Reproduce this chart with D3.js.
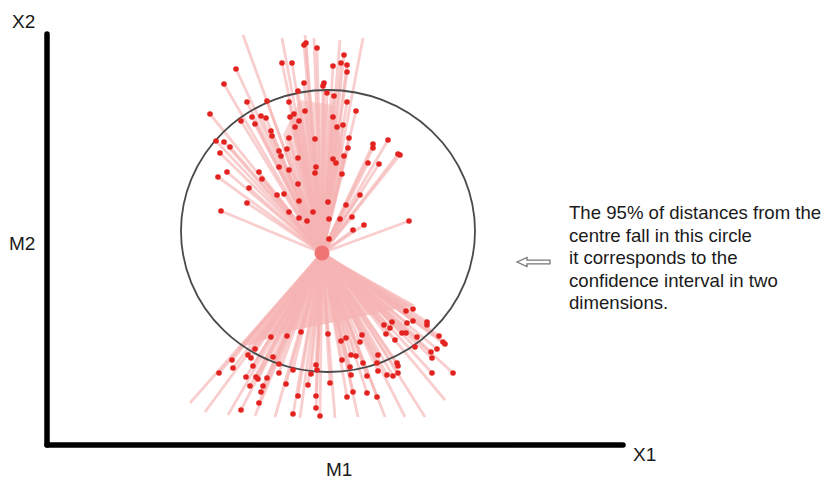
<!DOCTYPE html>
<html>
<head>
<meta charset="utf-8">
<script src="https://cdn.jsdelivr.net/npm/d3@7"></script>
<style>
  body { margin: 0; background: #fff; }
  svg text { font-family: "Liberation Sans", Arial, sans-serif; fill: #1a1a1a; }
</style>
</head>
<body>
<svg id="chart" width="827" height="483"></svg>
<script>
/*------------------- data (M1, M2 units) --------------------*/
const centre = [27.5, 19.2];
const ring = { cx: 28.1, cy: 21.4, rx: 14.7, ry: 14.1 };

// points above the centre
const upperPts = [
  [25.9,40.2],[25.7,40.0],[27.0,39.7],[29.7,39.0],[23.5,38.2],[24.5,38.2],[29.4,38.2],[28.6,37.9],
  [30.0,38.0],[30.0,37.3],[18.9,37.6],[17.7,36.1],[25.7,36.2],[27.7,36.2],[27.6,35.9],[25.1,35.4],
  [28.0,35.2],[28.7,34.9],[22.0,34.4],[20.0,34.3],[24.2,34.3],[30.0,34.3],[16.3,33.1],[19.4,32.4],
  [20.5,32.8],[21.4,32.9],[21.9,32.7],[24.3,32.8],[24.7,33.1],[25.2,32.4],[25.8,33.4],[28.6,32.8],
  [30.9,33.4],[20.8,32.1],[24.8,31.8],[29.0,31.8],[29.6,32.0],[22.4,31.4],[22.5,30.9],[26.8,30.6],
  [24.2,30.7],[30.2,30.7],[34.1,30.5],[16.9,30.4],[17.7,30.3],[18.3,29.8],[32.6,30.1],[32.6,29.7],
  [17.3,29.2],[23.2,29.4],[24.0,29.6],[23.4,28.9],[25.1,28.7],[30.1,29.7],[29.7,28.9],[28.6,28.6],
  [28.9,28.2],[35.1,29.1],[35.3,29.0],[32.1,28.2],[33.2,28.1],[18.0,27.3],[21.2,27.3],[23.2,27.8],
  [24.2,27.5],[26.9,27.8],[26.8,27.2],[29.5,27.1],[17.1,26.8],[21.5,26.6],[20.2,25.7],[25.1,26.1],
  [23.0,25.0],[23.7,25.1],[31.3,25.0],[20.0,24.2],[25.2,24.4],[28.1,24.3],[29.9,24.0],[17.4,23.4],
  [24.2,23.3],[26.6,23.3],[25.2,22.7],[26.0,22.4],[28.2,22.6],[29.3,22.6],[30.5,22.8],[31.7,22.0],
  [30.6,21.5],[36.2,22.4],[28.2,20.6]
];

// points below the centre
const lowerPts = [
  [35.9,13.4],[36.6,13.6],[33.7,12.0],[34.5,12.3],[34.3,11.7],[36.0,12.2],[36.6,12.4],[38.0,12.3],
  [38.0,12.0],[35.5,11.2],[35.9,11.2],[33.9,11.1],[37.0,10.8],[39.2,10.9],[39.6,10.3],[39.8,10.1],
  [36.8,9.8],[38.4,9.3],[39.0,9.6],[38.5,8.7],[38.5,7.2],[40.6,7.2],[34.8,10.5],[33.1,9.0],
  [35.0,8.2],[35.1,7.9],[34.6,6.9],[34.0,7.0],[35.1,7.2],[31.5,11.0],[31.3,10.3],[29.9,10.7],
  [29.4,10.4],[28.1,11.1],[30.4,9.0],[30.9,8.9],[31.6,8.2],[33.0,8.2],[29.5,8.5],[30.3,7.8],
  [30.4,7.0],[32.0,6.9],[33.1,7.4],[28.3,6.2],[30.6,5.3],[30.0,4.8],[32.0,5.2],[33.0,4.8],
  [25.4,11.3],[24.0,10.9],[22.4,10.8],[20.8,9.6],[20.1,9.0],[20.4,8.7],[18.5,8.5],[18.6,7.7],
  [17.2,7.2],[20.6,7.9],[22.6,8.8],[23.2,8.1],[24.6,7.5],[26.9,8.0],[26.4,7.1],[27.0,7.5],
  [19.9,6.8],[20.9,6.8],[21.1,6.6],[22.0,6.7],[23.2,7.2],[20.3,5.9],[21.6,5.9],[23.9,6.1],
  [26.1,6.0],[21.4,5.3],[25.1,4.9],[26.9,4.9],[21.2,4.2],[26.9,3.7],[19.4,3.5],[24.6,3.1],
  [27.3,2.9]
];

// rays that run past the points without a marker
const bareRays = [
  [19.6,41.0],[23.5,40.7],[25.8,41.0],[26.7,40.7],[29.3,40.5],[31.6,40.7],
  [14.3,4.2],[15.8,3.3],[18.1,3.0],[20.8,2.9],[22.8,2.8],[25.3,2.7],[28.8,2.7],
  [31.1,2.8],[33.8,2.8],[35.8,2.8],[37.8,2.8],[39.8,4.5]
];

// dense shaded parts of the two fans
const lowerFan = [[27.5,19.2],[19.0,9.6],[24.3,11.4],[30.3,12.6],[36.8,14.0]];
const upperFan = [[27.5,19.2],[23.6,31.0],[25.3,34.5],[28.6,34.0],[29.8,28.5]];

const noteLines = [
  "The 95% of distances from the",
  "centre fall in this circle",
  "it corresponds to the",
  "confidence interval in two",
  "dimensions."
];

/*------------------- scales --------------------*/
const svg = d3.select("#chart");
const x = d3.scaleLinear().domain([0, 58]).range([47, 627]);
const y = d3.scaleLinear().domain([0, 41]).range([445, 35]);
const fanLine = d3.line().x(d => x(d[0])).y(d => y(d[1]));

/*------------------- fans --------------------*/
svg.append("path")
  .attr("d", fanLine(lowerFan) + "Z")
  .attr("fill", "#f9c4c4");
svg.append("path")
  .attr("d", fanLine(upperFan) + "Z")
  .attr("fill", "#f9c8c8")
  .attr("opacity", 0.8);

const allEnds = upperPts.concat(lowerPts, bareRays);
svg.append("g")
  .selectAll("line")
  .data(allEnds)
  .join("line")
  .attr("x1", x(centre[0]))
  .attr("y1", y(centre[1]))
  .attr("x2", d => x(d[0]))
  .attr("y2", d => y(d[1]))
  .attr("stroke", "#f6b4b4")
  .attr("stroke-width", 2.8)
  .attr("stroke-opacity", 0.65);

/*------------------- circle --------------------*/
svg.append("ellipse")
  .attr("cx", x(ring.cx))
  .attr("cy", y(ring.cy))
  .attr("rx", x(ring.cx + ring.rx) - x(ring.cx))
  .attr("ry", y(ring.cy - ring.ry) - y(ring.cy))
  .attr("fill", "none")
  .attr("stroke", "#4a4a4a")
  .attr("stroke-width", 1.8);

/*------------------- points --------------------*/
svg.append("g")
  .selectAll("circle")
  .data(upperPts.concat(lowerPts))
  .join("circle")
  .attr("cx", d => x(d[0]))
  .attr("cy", d => y(d[1]))
  .attr("r", 2.8)
  .attr("fill", "#e2231f");

svg.append("circle")
  .attr("cx", x(centre[0]))
  .attr("cy", y(centre[1]))
  .attr("r", 7.5)
  .attr("fill", "#f07474");

/*------------------- axes --------------------*/
svg.append("line")
  .attr("x1", x(0)).attr("y1", y(0))
  .attr("x2", x(0)).attr("y2", y(41.1))
  .attr("stroke", "#000").attr("stroke-width", 5.5).attr("stroke-linecap", "round");
svg.append("line")
  .attr("x1", x(0)).attr("y1", y(0))
  .attr("x2", x(57.6)).attr("y2", y(0))
  .attr("stroke", "#000").attr("stroke-width", 5.5).attr("stroke-linecap", "round");

svg.append("text").attr("x", 12).attr("y", 28).attr("font-size", 19).text("X2");
svg.append("text").attr("x", 9).attr("y", 250).attr("font-size", 19).text("M2");
svg.append("text").attr("x", 633).attr("y", 461).attr("font-size", 19).text("X1");
svg.append("text").attr("x", 326).attr("y", 476).attr("font-size", 19).text("M1");

/*------------------- note + arrow --------------------*/
const arrow = [[0,0],[10,-4.5],[10,-1.8],[33,-1.8],[33,1.8],[10,1.8],[10,4.5]];
svg.append("path")
  .attr("transform", "translate(517,262)")
  .attr("d", d3.line()(arrow) + "Z")
  .attr("fill", "#fff")
  .attr("stroke", "#777")
  .attr("stroke-width", 1.3);

svg.append("g")
  .selectAll("text")
  .data(noteLines)
  .join("text")
  .attr("x", 569)
  .attr("y", (d, i) => 219 + i * 22.5)
  .attr("font-size", 18.6)
  .text(d => d);
</script>
</body>
</html>
